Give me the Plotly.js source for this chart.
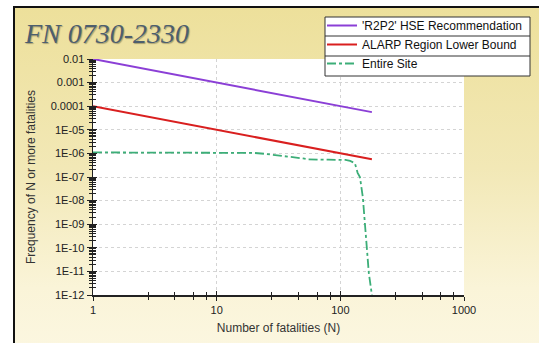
<!DOCTYPE html>
<html>
<head>
<meta charset="utf-8">
<script src="https://cdn.plot.ly/plotly-3.0.1.min.js"></script>
<style>
  html, body { margin:0; padding:0; background:#ffffff; overflow:hidden; }
  #frame { position:absolute; left:13px; top:6px; width:600px; height:400px;
           border-left:2px solid #111; border-top:2px solid #111;
           background:linear-gradient(to bottom, #ede09b 0%, #f2e8b6 40%, #faf4d8 70%, #fdf9e8 100%); }
  #chart { position:absolute; left:0; top:0; width:539px; height:343px; }
</style>
</head>
<body>
<div id="frame"></div>
<div id="chart"></div>
<script>
// ---- data ----
const seriesNames = ["'R2P2' HSE Recommendation", "ALARP Region Lower Bound", "Entire Site"];
const criteriaN = [1, 180];
const r2p2F = [0.01, 5.6e-5];
const alarpF = [1e-4, 5.6e-7];
const siteN = [1, 2, 3, 5, 8, 10, 15, 20, 25, 30, 35, 40, 45, 50, 55, 60, 70, 80, 90, 100, 110, 120, 131, 138, 144, 152, 158, 164, 170, 180];
const siteF = [1.1e-6, 1.1e-6, 1.1e-6, 1.1e-6, 1.1e-6, 1.1e-6, 1.1e-6, 1.05e-6, 9.5e-7, 8.5e-7, 8e-7, 7.4e-7, 6.8e-7, 6.1e-7, 5.6e-7, 5.4e-7, 5.4e-7, 5.4e-7, 5.5e-7, 5.5e-7, 5.3e-7, 4.8e-7, 3.9e-7, 1.5e-7, 1e-7, 1.4e-8, 1.1e-9, 1.1e-10, 8.5e-12, 1e-12];
const xTickVals = [1, 10, 100, 1000];
const xTickText = ['1', '10', '100', '1000'];
const yTickVals = [1e-2, 1e-3, 1e-4, 1e-5, 1e-6, 1e-7, 1e-8, 1e-9, 1e-10, 1e-11, 1e-12];
const yTickText = ['0.01', '0.001', '0.0001', '1E-05', '1E-06', '1E-07', '1E-08', '1E-09', '1E-10', '1E-11', '1E-12'];
const xMinorVals = [2.8, 4.6, 6.5, 8.3, 28, 46, 65, 83, 280, 460, 650, 830];
const titleText = 'FN 0730-2330';
const xTitle = 'Number of fatalities (N)';
const yTitle = 'Frequency of N or more fatalities';

const fontFam = '"Liberation Sans", Arial, sans-serif';

// plot area in pixels (for converting legend-box decoration to paper units)
const PL = 93, PR = 464, PT = 59, PB = 295;
const px2x = p => (p - PL) / (PR - PL);
const px2y = p => (PB - p) / (PB - PT);

const traces = [
  { x: criteriaN, y: r2p2F, name: seriesNames[0], mode: 'lines', legendgroup: 'a',
    line: { color: '#8b3fd6', width: 2 } },
  { x: criteriaN, y: alarpF, name: seriesNames[1], mode: 'lines', legendgroup: 'b',
    line: { color: '#d91f1f', width: 2 } },
  { x: siteN, y: siteF, name: seriesNames[2], mode: 'lines', legendgroup: 'c',
    line: { color: '#3cae78', width: 1.8, dash: 'dashdot' } },
  { x: [], y: [], xaxis: 'x2', yaxis: 'y2', showlegend: false, hoverinfo: 'skip' }
];

const tickFont = { family: fontFam, size: 11, color: '#222' };

const boxShapes = [
  { type: 'rect', xref: 'paper', yref: 'paper', x0: px2x(325), x1: px2x(530), y0: px2y(17), y1: px2y(76),
    fillcolor: '#ffffff', line: { color: '#333', width: 1 }, layer: 'above' },
  { type: 'line', xref: 'paper', yref: 'paper', x0: px2x(325), x1: px2x(530), y0: px2y(36), y1: px2y(36),
    line: { color: '#333', width: 1 }, layer: 'above' },
  { type: 'line', xref: 'paper', yref: 'paper', x0: px2x(325), x1: px2x(530), y0: px2y(56), y1: px2y(56),
    line: { color: '#333', width: 1 }, layer: 'above' }
];

const layout = {
  width: 539, height: 343,
  margin: { l: PL, r: 539 - PR, t: PT, b: 343 - PB, pad: 0, autoexpand: false },
  paper_bgcolor: 'rgba(0,0,0,0)',
  plot_bgcolor: '#ffffff',
  title: { text: titleText, xref: 'container', yref: 'container',
           x: 25/539, xanchor: 'left', y: 1 - 33/343, yanchor: 'middle',
           font: { family: '"Liberation Serif", "Times New Roman", serif', size: 28, style: 'italic',
                   color: '#4d5e6e', shadow: '1px 1px 1px rgba(0,0,0,0.3)' } },
  showlegend: true,
  legend: { x: px2x(322), xanchor: 'left', y: px2y(11), yanchor: 'top',
            bgcolor: 'rgba(0,0,0,0)', borderwidth: 0,
            font: { family: fontFam, size: 12, color: '#111' }, tracegroupgap: 0,
            traceorder: 'normal', itemwidth: 30 },
  shapes: boxShapes,
  xaxis: { type: 'log', range: [0, 3], tickmode: 'array', tickvals: xTickVals, ticktext: xTickText,
           ticks: 'outside', ticklen: 4, tickwidth: 1, tickcolor: '#222',
           showline: true, linecolor: '#222', linewidth: 1.5,
           showgrid: true, gridcolor: '#d4d4d4', griddash: 'dot', gridwidth: 1,
           zeroline: false, tickfont: tickFont, automargin: false,
           minor: { tickmode: 'array', tickvals: xMinorVals, ticks: 'outside', ticklen: 3, tickcolor: '#222', showgrid: false },
           title: { text: xTitle, standoff: 9, font: { family: fontFam, size: 12, color: '#333' } } },
  yaxis: { type: 'log', range: [-12, -2], tickmode: 'array', tickvals: yTickVals, ticktext: yTickText,
           ticks: 'outside', ticklen: 5, tickwidth: 1, tickcolor: '#222',
           showline: true, linecolor: '#222', linewidth: 1.5,
           showgrid: true, gridcolor: '#d4d4d4', griddash: 'dot', gridwidth: 1,
           zeroline: false, tickfont: tickFont, automargin: false,
           minor: { dtick: 'D1', ticks: 'outside', ticklen: 3, tickcolor: '#222', showgrid: false },
           title: { text: yTitle, standoff: 12, font: { family: fontFam, size: 12, color: '#333' } } },
  xaxis2: { type: 'log', range: [0, 3], overlaying: 'x', anchor: 'y2', side: 'bottom',
            tickmode: 'array', tickvals: xTickVals, ticks: 'inside', ticklen: 4, tickcolor: '#222',
            showticklabels: false, showgrid: false, showline: false, zeroline: false,
            minor: { tickmode: 'array', tickvals: xMinorVals, ticks: 'inside', ticklen: 3, tickcolor: '#222', showgrid: false } },
  yaxis2: { type: 'log', range: [-12, -2], overlaying: 'y', anchor: 'x2', side: 'left',
            tickmode: 'array', tickvals: yTickVals, ticks: 'inside', ticklen: 4, tickcolor: '#222',
            showticklabels: false, showgrid: false, showline: false, zeroline: false,
            minor: { dtick: 'D1', ticks: 'inside', ticklen: 3, tickcolor: '#222', showgrid: false } }
};

Plotly.newPlot('chart', traces, layout, { staticPlot: true, displayModeBar: false });
</script>
</body>
</html>
